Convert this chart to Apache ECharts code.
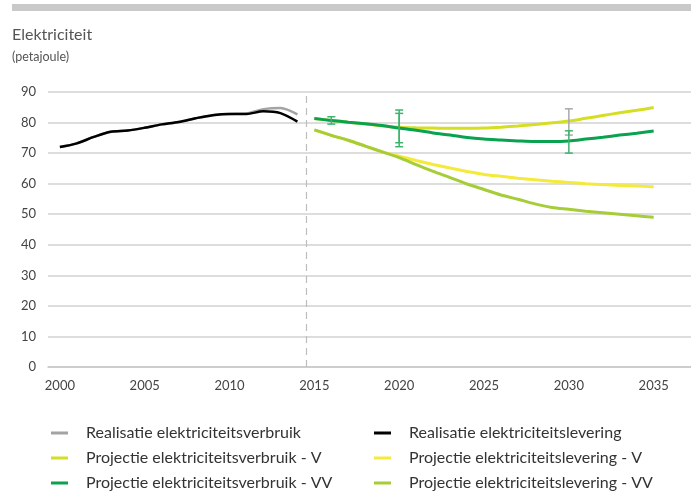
<!DOCTYPE html>
<html>
<head>
<meta charset="utf-8">
<script src="https://cdn.jsdelivr.net/npm/echarts@6/dist/echarts.min.js"></script>
<style>
  html, body { margin: 0; padding: 0; background: #fff; }
  #chart { width: 691px; height: 494px; }
</style>
</head>
<body>
<div id="chart"></div>
<script>
// Realised electricity figures (PJ)
const realYears = [2000, 2001, 2002, 2003, 2004, 2005, 2006, 2007, 2008, 2009, 2010, 2011, 2012, 2013, 2014];
const realVerbruik = [72.0, 73.2, 75.3, 77.0, 77.4, 78.3, 79.4, 80.2, 81.4, 82.4, 82.8, 83.0, 84.4, 84.8, 82.7];
const realLevering = [72.0, 73.2, 75.3, 77.0, 77.4, 78.3, 79.4, 80.2, 81.4, 82.4, 82.8, 82.8, 83.7, 83.1, 80.3];

// Projections 2015-2035 (PJ)
const projYears = [2015, 2016, 2017, 2018, 2019, 2020, 2021, 2022, 2023, 2024, 2025, 2026, 2027, 2028, 2029, 2030, 2031, 2032, 2033, 2034, 2035];
const verbruikV = [81.3, 80.7, 80.1, 79.6, 78.9, 78.5, 78.3, 78.2, 78.1, 78.1, 78.2, 78.5, 78.9, 79.4, 79.9, 80.5, 81.4, 82.3, 83.2, 84.0, 84.9];
const verbruikVV = [81.3, 80.7, 80.1, 79.6, 79.0, 78.2, 77.5, 76.6, 75.9, 75.1, 74.6, 74.3, 74.0, 73.8, 73.8, 74.0, 74.6, 75.2, 75.9, 76.5, 77.2];
const leveringV = [77.6, 75.8, 74.2, 72.3, 70.4, 69.0, 67.6, 66.3, 65.1, 64.0, 63.0, 62.4, 61.8, 61.3, 60.8, 60.4, 60.0, 59.7, 59.4, 59.2, 59.0];
const leveringVV = [77.6, 75.8, 74.2, 72.3, 70.4, 68.5, 66.2, 64.0, 62.0, 59.9, 58.1, 56.3, 54.9, 53.4, 52.2, 51.6, 51.0, 50.5, 50.0, 49.5, 49.0];

// Uncertainty ranges
const greenBarYears = [2016, 2020, 2020, 2030];
const greenBarLow = [79.5, 72.1, 73.4, 70.0];
const greenBarHigh = [81.9, 84.1, 83.0, 77.3];
const greyBarYears = [2030];
const greyBarLow = [75.9];
const greyBarHigh = [84.5];

// Axis labels
const xTickYears = [2000, 2005, 2010, 2015, 2020, 2025, 2030, 2035];
const splitYear = 2014.5;

const seriesNames = [
  'Realisatie elektriciteitsverbruik',
  'Realisatie elektriciteitslevering',
  'Projectie elektriciteitsverbruik - V',
  'Projectie elektriciteitslevering - V',
  'Projectie elektriciteitsverbruik - VV',
  'Projectie elektriciteitslevering - VV'
];

const C = {
  grey: '#a3a3a3',
  black: '#000000',
  verbrV: '#d6de24',
  verbrVV: '#0aa24e',
  levV: '#f4ea3a',
  levVV: '#a6cd38',
  errGreen: '#3cb46e',
  errGrey: '#a8a8a8'
};

const pair = (xs, ys) => xs.map((x, i) => [x, ys[i]]);
const FONT = 'Lato';

function errorBars(xs, lo, hi) {
  return xs.map((x, i) => [x, lo[i], hi[i]]);
}

function errorRender(color) {
  return function (params, api) {
    const x = api.value(0);
    const top = api.coord([x, api.value(2)]);
    const bot = api.coord([x, api.value(1)]);
    const cap = 4;
    const st = { stroke: color, lineWidth: 1.5 };
    return {
      type: 'group',
      children: [
        { type: 'line', shape: { x1: top[0], y1: top[1], x2: bot[0], y2: bot[1] }, style: st },
        { type: 'line', shape: { x1: top[0] - cap, y1: top[1], x2: top[0] + cap, y2: top[1] }, style: st },
        { type: 'line', shape: { x1: bot[0] - cap, y1: bot[1], x2: bot[0] + cap, y2: bot[1] }, style: st }
      ]
    };
  };
}

function lineSeries(name, data, color, width, z) {
  return {
    name: name,
    type: 'line',
    data: data,
    smooth: 0.3,
    showSymbol: false,
    symbol: 'none',
    z: z,
    lineStyle: { color: color, width: width },
    itemStyle: { color: color }
  };
}

// Legend: two columns of three rows, one entry per legend box
const legendCols = [46, 369];
const legendRows = [420, 445, 470];
const legends = seriesNames.map((name, i) => ({
  data: [name],
  left: legendCols[i % 2],
  top: legendRows[Math.floor(i / 2)],
  itemWidth: 17, itemHeight: 3, icon: 'rect',
  selectedMode: false,
  textStyle: { fontFamily: FONT, fontSize: 16, color: '#333', padding: [0, 0, 0, 13] }
}));

const chart = echarts.init(document.getElementById('chart'), null, { renderer: 'canvas' });

chart.setOption({
  animation: false,
  backgroundColor: '#ffffff',
  graphic: [
    { type: 'rect', shape: { x: 12, y: 4, width: 679, height: 7 }, style: { fill: '#c9c9c9' } },
    { type: 'text', left: 12, top: 27, style: { text: 'Elektriciteit', font: '16px ' + FONT, fill: '#555' } },
    { type: 'text', left: 12, top: 50, style: { text: '(petajoule)', font: '12.5px ' + FONT, fill: '#555' } }
  ],
  grid: { left: 48, right: 0, top: 92, bottom: 127, containLabel: false },
  xAxis: {
    type: 'value',
    min: 1999.3,
    max: 2037.2,
    axisLine: { show: true, lineStyle: { color: '#c8c8c8', width: 1.5 } },
    axisTick: { show: false },
    splitLine: { show: false },
    axisLabel: {
      customValues: xTickYears,
      formatter: v => String(v),
      fontFamily: FONT, fontSize: 13, color: '#444', margin: 12
    }
  },
  yAxis: {
    type: 'value',
    min: 0, max: 90, interval: 10,
    axisLine: { show: false },
    axisTick: { show: false },
    splitLine: { lineStyle: { color: '#d2d2d2', width: 1.5 } },
    axisLabel: { fontFamily: FONT, fontSize: 13, color: '#444', margin: 12, align: 'right' }
  },
  legend: legends,
  series: [
    Object.assign(lineSeries(seriesNames[0], pair(realYears, realVerbruik), C.grey, 2.5, 2), {
      markLine: {
        silent: true, symbol: 'none', label: { show: false },
        lineStyle: { color: '#bdbdbd', type: [7, 5], width: 1.2 },
        data: [[{ coord: [splitYear, 0] }, { coord: [splitYear, 90] }]]
      }
    }),
    lineSeries(seriesNames[1], pair(realYears, realLevering), C.black, 2.5, 3),
    lineSeries(seriesNames[2], pair(projYears, verbruikV), C.verbrV, 3, 2),
    lineSeries(seriesNames[3], pair(projYears, leveringV), C.levV, 3, 2),
    lineSeries(seriesNames[4], pair(projYears, verbruikVV), C.verbrVV, 3, 3),
    lineSeries(seriesNames[5], pair(projYears, leveringVV), C.levVV, 3, 3),
    {
      type: 'custom', z: 4,
      data: errorBars(greyBarYears, greyBarLow, greyBarHigh),
      renderItem: errorRender(C.errGrey),
      encode: { x: 0, y: [1, 2] }, silent: true
    },
    {
      type: 'custom', z: 5,
      data: errorBars(greenBarYears, greenBarLow, greenBarHigh),
      renderItem: errorRender(C.errGreen),
      encode: { x: 0, y: [1, 2] }, silent: true
    }
  ]
});
</script>
</body>
</html>
